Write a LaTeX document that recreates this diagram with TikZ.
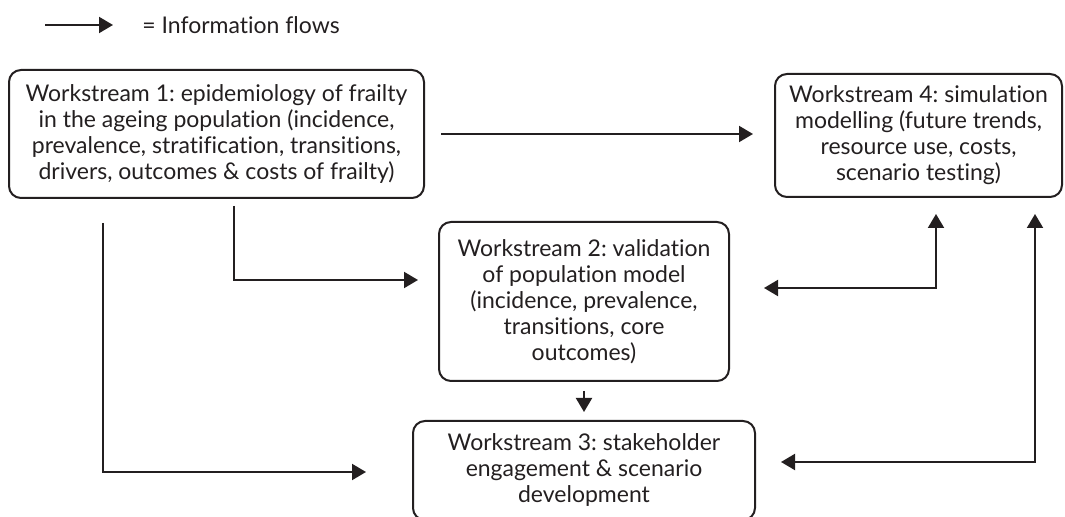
\documentclass[tikz,border=0pt]{standalone}
\usepackage{fontspec}
\setmainfont{Lato}[Ligatures=CommonOff]
\frenchspacing
\usetikzlibrary{arrows.meta}
\definecolor{inkgray}{HTML}{231F20}

\begin{document}
\begin{tikzpicture}[x=0.5pt, y=-0.5pt]
    % styles
    \tikzset{
        wsbox/.style={rectangle, draw=inkgray, line width=1pt, rounded corners=6pt, align=center, text=inkgray, font=\fontsize{11.5}{13}\selectfont, inner sep=0pt},
        flow/.style={draw=inkgray, line width=1pt, -{Triangle[length=7pt, width=8pt]}},
        flowboth/.style={draw=inkgray, line width=1pt, {Triangle[length=7pt, width=8pt]}-{Triangle[length=7pt, width=8pt]}},
    }
    \useasboundingbox (0,0) rectangle (1065,517);

    % legend
    \coordinate (lg1) at (45,25);
    \coordinate (lg2) at (113,25);
    \draw[flow] (lg1) -- (lg2);
    \node[anchor=west, text=inkgray, font=\fontsize{11.5}{13}\selectfont, inner sep=0pt] (legtxt) at (142,25) {= Information flows};

    % workstreams
    \node[wsbox, minimum width=207.5pt, minimum height=64pt] (ws1) at (216.5,134)
        {Workstream 1: epidemiology of frailty\\in the ageing population (incidence,\\prevalence, stratification, transitions,\\drivers, outcomes \& costs of frailty)};
    \node[wsbox, minimum width=143.5pt, minimum height=61.5pt] (ws4) at (918.5,135.5)
        {Workstream 4: simulation\\modelling (future trends,\\resource use, costs,\\scenario testing)};
    \node[wsbox, minimum width=145pt, minimum height=79.5pt] (ws2) at (584,301.5)
        {Workstream 2: validation\\of population model\\(incidence, prevalence,\\transitions, core\\outcomes)};
    \node[wsbox, minimum width=171pt, minimum height=49.5pt] (ws3) at (584,470.5)
        {Workstream 3: stakeholder\\engagement \& scenario\\development};

    % bends
    \coordinate (b12) at (234,280);
    \coordinate (b13) at (103,472);
    \coordinate (b42) at (936,288);
    \coordinate (b43) at (1035,462);

    % information flows
    \draw[flow, shorten <=8pt, shorten >=10.5pt] (ws1.east) -- (ws1.east -| ws4.west);
    \draw[flow, shorten <=3.5pt, shorten >=10pt] (ws1.south -| b12) -- (b12) -- (b12 -| ws2.west);
    \draw[flow, shorten <=12pt, shorten >=23pt] (ws1.south -| b13) -- (b13) -- (b13 -| ws3.west);
    \draw[flow, shorten <=4.5pt, shorten >=4pt] (ws2.south) -- (ws3.north);
    \draw[flowboth, shorten <=8pt, shorten >=17pt] (ws4.south -| b42) -- (b42) -- (b42 -| ws2.east);
    \draw[flowboth, shorten <=8pt, shorten >=12.5pt] (ws4.south -| b43) -- (b43) -- (b43 -| ws3.east);
\end{tikzpicture}
\end{document}
